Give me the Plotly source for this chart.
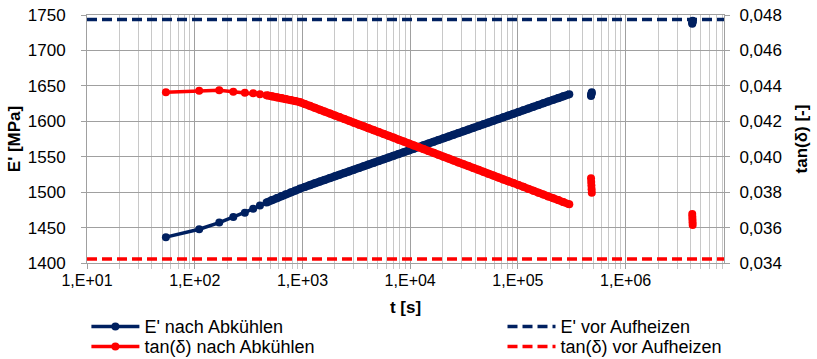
import plotly.graph_objects as go

# ---- data ----
t_main = [54, 110, 169, 228, 292, 349, 403, 464,
          520, 580, 640, 700, 780, 860, 950, 1050, 1170, 1300,
          1450, 1600, 1800, 2000, 2200, 2450, 2700, 3000, 3350, 3700,
          4100, 4600, 5100, 5700, 6300, 7000, 7800, 8700, 9700, 10800,
          12000, 13300, 14800, 16500, 18300, 20400, 22700, 25200, 28000, 31200,
          34700, 38600, 43000, 47800, 53200, 59200, 65800, 73200, 81500, 90700,
          101000, 112000, 125000, 139000, 155000, 172000, 191000, 213000, 237000, 263000,
          300000]

E_nach = [1436.5, 1447.6, 1457.0, 1465.0, 1471.0, 1476.5, 1481.0, 1485.5,
          1488.9, 1491.8, 1494.4, 1496.9, 1499.8, 1502.4, 1505.1, 1507.4, 1509.9, 1512.4,
          1514.9, 1517.2, 1519.9, 1522.3, 1524.5, 1527.0, 1529.3, 1531.7, 1534.2, 1536.5,
          1538.9, 1541.6, 1544.0, 1546.5, 1548.9, 1551.3, 1553.8, 1556.3, 1558.8, 1561.3,
          1563.8, 1566.2, 1568.6, 1571.1, 1573.5, 1576.0, 1578.5, 1580.9, 1583.3, 1585.9,
          1588.3, 1590.8, 1593.3, 1595.7, 1598.2, 1600.7, 1603.2, 1605.6, 1608.0, 1610.6,
          1613.0, 1615.4, 1618.0, 1620.4, 1622.9, 1625.3, 1627.8, 1630.3, 1632.7, 1635.2,
          1638.2]

tan_nach = [0.04364, 0.04373, 0.04375, 0.04367, 0.04361, 0.04358, 0.04352, 0.04347,
            0.04342, 0.04336, 0.04331, 0.04326, 0.04320, 0.04314, 0.04308, 0.04298, 0.04287, 0.04276,
            0.04265, 0.04255, 0.04244, 0.04233, 0.04224, 0.04213, 0.04203, 0.04192, 0.04181, 0.04172,
            0.04161, 0.04150, 0.04139, 0.04128, 0.04118, 0.04108, 0.04096, 0.04086, 0.04075, 0.04064,
            0.04053, 0.04043, 0.04032, 0.04022, 0.04011, 0.04000, 0.03990, 0.03979, 0.03968, 0.03958,
            0.03947, 0.03936, 0.03926, 0.03915, 0.03904, 0.03894, 0.03883, 0.03872, 0.03862, 0.03851,
            0.03840, 0.03830, 0.03818, 0.03808, 0.03797, 0.03787, 0.03776, 0.03765, 0.03755, 0.03744,
            0.03731]

# later measurement groups
t_grp1 = [477000, 479000, 481000, 483000, 485000]
E_grp1 = [1635.8, 1637.1, 1638.4, 1639.7, 1641.0]
tan_grp1 = [0.03878, 0.03857, 0.03837, 0.03817, 0.03797]

t_grp2 = [4150000, 4160000, 4170000, 4180000, 4190000]
E_grp2 = [1737.7, 1738.8, 1739.9, 1741.0, 1742.0]
tan_grp2 = [0.03677, 0.03661, 0.03646, 0.03630, 0.03614]

# reference values before heating
t_ref = [10, 10000000]
E_vor = [1743.5, 1743.5]
tan_vor = [0.03423, 0.03423]

# tick labels
x_tick_vals = [1e1, 1e2, 1e3, 1e4, 1e5, 1e6]
x_tick_text = ["1,E+01", "1,E+02", "1,E+03", "1,E+04", "1,E+05", "1,E+06"]
y1_tick_vals = [1400, 1450, 1500, 1550, 1600, 1650, 1700, 1750]
y1_tick_text = ["1400", "1450", "1500", "1550", "1600", "1650", "1700", "1750"]
y2_tick_vals = [0.034, 0.036, 0.038, 0.040, 0.042, 0.044, 0.046, 0.048]
y2_tick_text = ["0,034", "0,036", "0,038", "0,040", "0,042", "0,044", "0,046", "0,048"]

# ---- figure ----
BLUE = "#002060"
RED = "#FF0000"
FONT = "Liberation Sans, Arial, sans-serif"
DENSE = 7  # index from which the measured points overlap into a solid band

tE = t_main + [None] + t_grp1 + [None] + t_grp2
yE = E_nach + [None] + E_grp1 + [None] + E_grp2
yT = tan_nach + [None] + tan_grp1 + [None] + tan_grp2

fig = go.Figure()
fig.add_trace(go.Scatter(x=t_main[DENSE:], y=E_nach[DENSE:], mode="lines",
                         line=dict(color=BLUE, width=8), showlegend=False, hoverinfo="skip"))
fig.add_trace(go.Scatter(x=tE, y=yE, mode="lines+markers", name="E' nach Abkühlen",
                         line=dict(color=BLUE, width=3.5), marker=dict(color=BLUE, size=8),
                         connectgaps=False, legend="legend"))
fig.add_trace(go.Scatter(x=t_ref, y=E_vor, mode="lines", name="E' vor Aufheizen",
                         line=dict(color=BLUE, width=3.5, dash="10px,5px"), legend="legend3"))
fig.add_trace(go.Scatter(x=t_main[DENSE:], y=tan_nach[DENSE:], mode="lines", yaxis="y2",
                         line=dict(color=RED, width=8), showlegend=False, hoverinfo="skip"))
fig.add_trace(go.Scatter(x=tE, y=yT, mode="lines+markers", name="tan(δ) nach Abkühlen",
                         line=dict(color=RED, width=3.5), marker=dict(color=RED, size=8),
                         connectgaps=False, yaxis="y2", legend="legend2"))
fig.add_trace(go.Scatter(x=t_ref, y=tan_vor, mode="lines", name="tan(δ) vor Aufheizen",
                         line=dict(color=RED, width=3.5, dash="10px,5px"), yaxis="y2", legend="legend4"))

MAJ = "#a0a0a0"
MIN = "#c8c8c8"
minor_x = [m * 10 ** k for k in range(1, 7) for m in range(2, 10)]

L, R, T, B = 87, 93, 15, 96
W, H = 817, 359
pw = W - L - R
ph = H - T - B


def px_x(px):
    return (px - L) / pw


def px_y(py):
    return (H - B - py) / ph


leg_common = dict(orientation="v", xanchor="left", yanchor="middle", itemwidth=48,
                  bgcolor="rgba(0,0,0,0)", font=dict(family=FONT, size=18, color="black"))

fig.update_layout(
    width=W, height=H,
    margin=dict(l=L, r=R, t=T, b=B, autoexpand=False),
    paper_bgcolor="white", plot_bgcolor="white",
    font=dict(family=FONT, size=16, color="black"),
    xaxis=dict(type="log", range=[1, 6.913], tickmode="array", tickvals=x_tick_vals,
               ticktext=x_tick_text, ticks="outside", ticklen=5, tickcolor=MAJ,
               showgrid=True, gridcolor=MAJ, gridwidth=1,
               showline=True, linecolor=MAJ, linewidth=1, mirror=True,
               minor=dict(tickmode="array", tickvals=minor_x, ticks="outside", ticklen=5,
                          tickcolor=MIN, showgrid=True, gridcolor=MIN, gridwidth=1),
               tickfont=dict(size=16), ticklabelstandoff=-2,
               title=dict(text="<b>t [s]</b>", font=dict(size=17), standoff=12),
               zeroline=False),
    yaxis=dict(range=[1400, 1750], tickmode="array", tickvals=y1_tick_vals, ticktext=y1_tick_text,
               ticks="outside", ticklen=5, tickcolor=MAJ, showgrid=True, gridcolor=MAJ,
               showline=True, linecolor=MAJ, linewidth=1, mirror=True,
               tickfont=dict(size=17), ticklabelstandoff=12,
               title=dict(text="<b>E' [MPa]</b>", font=dict(size=17), standoff=2),
               zeroline=False),
    yaxis2=dict(range=[0.034, 0.048], tickmode="array", tickvals=y2_tick_vals, ticktext=y2_tick_text,
                overlaying="y", side="right", ticks="outside", ticklen=5, tickcolor=MAJ,
                showgrid=False, showline=True, linecolor=MAJ, linewidth=1,
                tickfont=dict(size=17), ticklabelstandoff=6,
                title=dict(text="<b>tan(δ) [-]</b>", font=dict(size=17), standoff=14),
                zeroline=False),
    legend=dict(x=px_x(86.4), y=px_y(326.7), **leg_common),
    legend2=dict(x=px_x(86.4), y=px_y(346.7), **leg_common),
    legend3=dict(x=px_x(502.5), y=px_y(326.7), **leg_common),
    legend4=dict(x=px_x(502.5), y=px_y(346.7), **leg_common),
    showlegend=True,
)

# remove the default 8px page margin so the figure fills the window exactly
fig.write_html("out.html", config={"displayModeBar": False},
               post_script="document.body.style.margin='0px';")
